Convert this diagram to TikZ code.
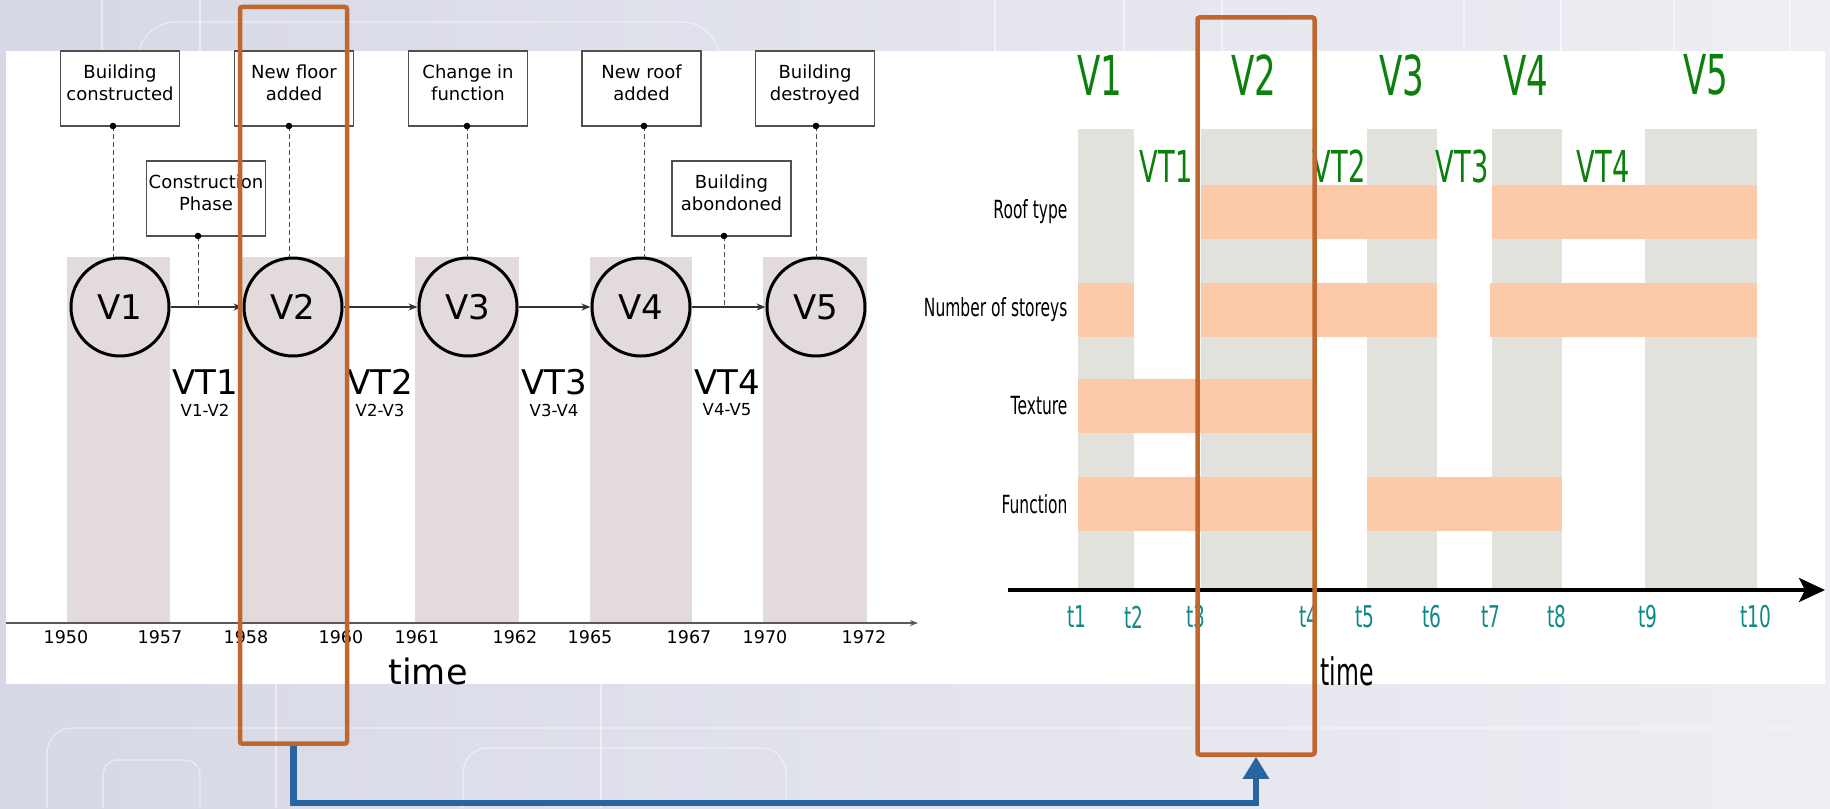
\documentclass[tikz,border=0pt]{standalone}
\usepackage{fontspec}
\setmainfont{DejaVu Sans}
\newfontfamily\narrowfont{DejaVu Sans}[FakeStretch=0.62]
\usetikzlibrary{arrows.meta,positioning}
\definecolor{bgleft}{RGB}{214,216,229}
\definecolor{bgmid}{RGB}{223,224,235}
\definecolor{bgright}{RGB}{238,238,244}
\definecolor{verbar}{RGB}{226,218,219}
\definecolor{stonebar}{RGB}{226,226,220}
\definecolor{peach}{RGB}{252,202,168}
\definecolor{vgreen}{RGB}{12,128,12}
\definecolor{tteal}{RGB}{16,138,136}
\definecolor{frameorange}{RGB}{192,103,46}
\definecolor{linkblue}{RGB}{40,101,160}
\definecolor{boxgray}{RGB}{80,80,80}

\begin{document}
\begin{tikzpicture}[
  x=1pt, y=-1pt,
  event/.style={draw=boxgray, line width=1.2pt, fill=white, inner sep=0pt,
    minimum width=119pt, minimum height=75pt, align=center, text depth=11pt,
    font=\fontsize{18}{21.7}\selectfont},
  version/.style={circle, draw=black, line width=3pt, minimum size=98pt,
    inner sep=0pt, font=\fontsize{34}{34}\selectfont},
  flow/.style={draw=black!80, line width=1.3pt, -{Stealth[length=9pt,width=7pt]}},
  tie/.style={draw=black!70, line width=1pt, dash pattern=on 5pt off 3pt},
  year/.style={font=\fontsize{17.5}{17.5}\selectfont},
  rowlabel/.style={anchor=east, font=\narrowfont\fontsize{25}{25}\selectfont},
  vlabel/.style={text=vgreen, font=\narrowfont\fontsize{55}{55}\selectfont},
  vtlabel/.style={text=vgreen, font=\narrowfont\fontsize{44}{44}\selectfont},
  tlabel/.style={text=tteal, font=\narrowfont\fontsize{30}{30}\selectfont},
  frame/.style={draw=frameorange, line width=4.5pt, rounded corners=2pt,
    inner sep=0pt},
  link/.style={draw=linkblue, line width=6.5pt,
    -{Triangle[length=22pt,width=25pt]}},
  ]
  \useasboundingbox (0,0) rectangle (1830,808);
  % backdrop
  \shade[left color=bgleft, middle color=bgmid, right color=bgright]
    (0,0) rectangle (1830,808);
  \begin{scope}[draw=white, opacity=0.5, line width=1.2pt]
    \draw[rounded corners=38pt] (138,60) -- (138,22) -- (720,22) -- (720,60);
    \draw (102,0) -- (102,51) (200,0) -- (200,51);
    \foreach \xx in {995,1124,1222,1464,1561,1674,1790}
      \draw (\xx,0) -- (\xx,51);
    \draw[rounded corners=25pt] (47,808) -- (47,728) -- (1830,728);
    \draw[rounded corners=15pt] (103,808) -- (103,760) -- (200,760) -- (200,808);
    \draw[rounded corners=25pt] (463,808) -- (463,748) -- (786,748) -- (786,808);
    \draw (276,684) -- (276,808) (601,684) -- (601,808);
  \end{scope}
  \fill[white] (6,51) rectangle (1825,684);

  %%% left: versions on a time line
  \foreach \a/\b in {67/170, 242/346, 415/519, 590/692, 763/867}
    \fill[verbar] (\a,257) rectangle (\b,623);

  \node[event] (ev1) at (120,88.5) {Building\\constructed};
  \node[event] (ev2) at (294,88.5) {New floor\\added};
  \node[event] (ev3) at (468,88.5) {Change in\\function};
  \node[event] (ev4) at (641.5,88.5) {New roof\\added};
  \node[event] (ev5) at (815,88.5) {Building\\destroyed};
  \node[event] (ph1) at (206,198.5) {Construction\\Phase};
  \node[event] (ph2) at (731.5,198.5) {Building\\abondoned};

  \foreach \n/\xx in {1/120, 2/293, 3/468, 4/641, 5/816}
    \node[version] (v\n) at (\xx,307) {V\n};
  \foreach \i/\j in {1/2, 2/3, 3/4, 4/5}
    \draw[flow] (v\i) -- (v\j);

  % events hang on the versions
  \foreach \n/\dx in {1/113, 2/289, 3/467, 4/644, 5/816} {
    \coordinate (d\n) at (\dx,126);
    \draw[tie] (d\n) -- (d\n |- v\n.north);
    \fill (d\n) circle (3.3pt);
  }
  % phases hang on the transitions
  \coordinate (c1) at (198,236);
  \coordinate (c2) at (724,236);
  \draw[tie] (c1) -- (c1 |- v1.center);
  \draw[tie] (c2) -- (c2 |- v4.center);
  \fill (c1) circle (3.3pt);
  \fill (c2) circle (3.3pt);

  \foreach \n/\xx/\pair in {1/205/V1-V2, 2/380/V2-V3, 3/554/V3-V4, 4/727/V4-V5} {
    \node[font=\fontsize{34}{34}\selectfont] (vt\n) at (\xx,382) {VT\n};
    \node[font=\fontsize{16.5}{16.5}\selectfont] (vp\n) at (\xx,410) {\pair};
  }

  \draw[draw=black!65, line width=1.5pt, -{Stealth[length=8pt,width=6pt]}]
    (6,623) -- (918,623);
  \foreach \xx/\yr in {66/1950, 160/1957, 246/1958, 341/1960, 417/1961,
      515/1962, 590/1965, 689/1967, 765/1970, 864/1972}
    \node[year] (yr\yr) at (\xx,637) {\yr};
  \node[font=\fontsize{35}{35}\selectfont] (timeL) at (428,671) {time};

  %%% right: attributes per version
  \foreach \a/\b in {1078/1134, 1201/1313, 1367/1437, 1492/1562, 1645/1757}
    \fill[stonebar] (\a,129) rectangle (\b,588);
  % roof type
  \fill[peach] (1201,185) rectangle (1437,239);
  \fill[peach] (1492,185) rectangle (1757,239);
  % number of storeys
  \fill[peach] (1078,283) rectangle (1134,337);
  \fill[peach] (1201,283) rectangle (1437,337);
  \fill[peach] (1490,283) rectangle (1757,337);
  % texture
  \fill[peach] (1078,379) rectangle (1313,433);
  % function
  \fill[peach] (1078,477) rectangle (1313,531);
  \fill[peach] (1367,477) rectangle (1562,531);

  \node[rowlabel] (rowRoof) at (1071,212) {Roof type};
  \node[rowlabel] (rowStorey) at (1071,310) {Number of storeys};
  \node[rowlabel] (rowTexture) at (1071,406) {Texture};
  \node[rowlabel] (rowFunction) at (1071,504) {Function};

  \foreach \n/\xx in {1/1100, 2/1254, 3/1402, 4/1526, 5/1706}
    \node[vlabel] (gv\n) at (\xx,75) {V\n};
  \foreach \n/\xx in {1/1166, 2/1339, 3/1462, 4/1603}
    \node[vtlabel] (gvt\n) at (\xx,166) {VT\n};

  \draw[line width=3.5pt, -{Stealth[length=26pt,width=24pt,inset=6pt]}]
    (1008,590) -- (1825,590);
  \foreach \n/\xx in {1/1077, 2/1134, 3/1196, 4/1309, 5/1365, 6/1432,
      7/1491, 8/1557, 9/1648, 10/1756}
    \node[tlabel] (t\n) at (\xx,617) {t\n};
  \node[font=\narrowfont\fontsize{38}{38}\selectfont] (timeR) at (1347,671) {time};

  %%% highlight of V2 in both views
  \node[frame, minimum width=107pt, minimum height=736.5pt] (frmL) at (293.5,375.25) {};
  \node[frame, minimum width=117pt, minimum height=737pt] (frmR) at (1256,386) {};
  \draw[link] (frmL.south) -- ++(0,57) -| (frmR.south);
\end{tikzpicture}
\end{document}
